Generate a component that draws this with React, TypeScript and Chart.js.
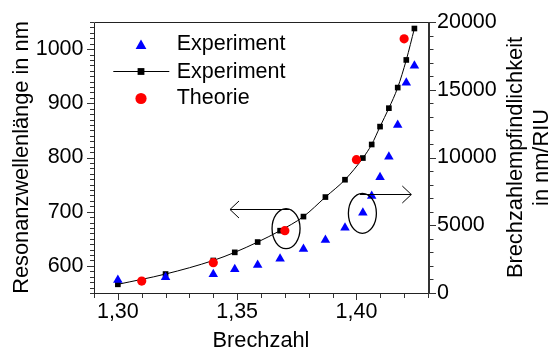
import React, { useEffect, useRef } from 'react';
import { Chart, registerables } from 'chart.js';

Chart.register(...registerables);

// ---- data ----
const BRECHZAHL = [1.3, 1.32, 1.34, 1.349, 1.3586, 1.368, 1.3778, 1.387, 1.3952, 1.4027, 1.4064, 1.4099, 1.4136, 1.4173, 1.4209, 1.4243];
const WELLENLAENGE = [566, 585, 610, 625, 644, 665, 691, 727, 759, 799, 824, 857, 891, 929, 980, 1038];
const EMPFINDLICHKEIT = [963, 1155, 1376, 1745, 2070, 2535, 3250, 3915, 4823, 5930, 7162, 8535, 10062, 12402, 15524, 16778];
const THEORIE_N = [1.31, 1.34, 1.37, 1.4, 1.42];
const THEORIE_WL = [572, 606, 665, 796, 1019];

const X_TICKS = [1.3, 1.35, 1.4];
const Y_TICKS = [600, 700, 800, 900, 1000];
const Y2_TICKS = [0, 5000, 10000, 15000, 20000];

const LABEL_EXP = 'Experiment';
const LABEL_THEO = 'Theorie';
const X_TITLE = 'Brechzahl';
const Y_TITLE = 'Resonanzwellenlänge in nm';
const Y2_TITLE = ['Brechzahlempfindlichkeit', 'in nm/RIU'];

// annotation anchors (data coordinates)
const ELLIPSES = [
  { x: 1.3705, y: 668.8, axis: 'y' },
  { x: 1.4025, y: 5882, axis: 'y2' },
];
const ARROWS = [
  { x1: 1.3719, x2: 1.347, y: 705.6, axis: 'y' },
  { x1: 1.4014, x2: 1.423, y: 7336, axis: 'y2' },
];

const FONT = "'Liberation Sans', Arial, sans-serif";

function triangle(ctx: CanvasRenderingContext2D, x: number, y: number, r: number) {
  ctx.beginPath();
  ctx.moveTo(x, y - r);
  ctx.lineTo(x + 0.866 * r, y + 0.5 * r);
  ctx.lineTo(x - 0.866 * r, y + 0.5 * r);
  ctx.closePath();
  ctx.fill();
}

const decorPlugin = {
  id: 'decor',
  beforeDatasetsDraw(chart: any) {
    const { ctx, chartArea: a, scales } = chart;
    const sx = scales.x, sy = scales.y, sy2 = scales.y2;
    ctx.save();
    ctx.strokeStyle = '#222';
    ctx.lineWidth = 1;
    // frame
    ctx.beginPath();
    ctx.moveTo(a.left + 0.5, a.bottom + 0.5);
    ctx.lineTo(a.left + 0.5, a.top + 0.5);
    ctx.lineTo(a.right, a.top + 0.5);
    ctx.moveTo(a.left, a.bottom + 0.5);
    ctx.lineTo(a.right, a.bottom + 0.5);
    ctx.stroke();
    ctx.strokeStyle = '#333';
    ctx.lineWidth = 2;
    ctx.beginPath();
    ctx.moveTo(a.right + 1, a.top);
    ctx.lineTo(a.right + 1, a.bottom + 1);
    ctx.stroke();
    // ticks
    ctx.lineWidth = 1;
    ctx.strokeStyle = '#333';
    ctx.beginPath();
    for (let i = 129; i <= 143; i++) {
      const px = Math.round(sx.getPixelForValue(i / 100)) + 0.5;
      const len = i % 5 === 0 ? 6 : 4;
      ctx.moveTo(px, a.bottom + 1);
      ctx.lineTo(px, a.bottom + 1 + len);
    }
    for (let i = 55; i <= 105; i++) {
      const py = Math.round(sy.getPixelForValue(i * 10)) + 0.5;
      const len = i % 10 === 0 ? 7 : 4;
      ctx.moveTo(a.left, py);
      ctx.lineTo(a.left - len, py);
    }
    for (let i = 0; i <= 20; i++) {
      const py = Math.round(sy2.getPixelForValue(i * 1000)) + 0.5;
      const len = i % 5 === 0 ? 6 : 3.5;
      ctx.moveTo(a.right + 2, py);
      ctx.lineTo(a.right + 2 + len, py);
    }
    ctx.stroke();
    ctx.restore();
  },
  afterDatasetsDraw(chart: any) {
    const { ctx, scales } = chart;
    ctx.save();
    ctx.strokeStyle = '#000';
    ctx.lineWidth = 1.3;
    ELLIPSES.forEach((e) => {
      const cx = scales.x.getPixelForValue(e.x);
      const cy = scales[e.axis].getPixelForValue(e.y);
      ctx.beginPath();
      ctx.ellipse(cx, cy, 14, 20, 0, 0, Math.PI * 2);
      ctx.stroke();
    });
    ctx.lineWidth = 1;
    ARROWS.forEach((ar) => {
      const x1 = scales.x.getPixelForValue(ar.x1);
      const x2 = scales.x.getPixelForValue(ar.x2);
      const y = Math.round(scales[ar.axis].getPixelForValue(ar.y)) + 0.5;
      const dir = x2 > x1 ? 1 : -1;
      ctx.beginPath();
      ctx.moveTo(x1, y);
      ctx.lineTo(x2, y);
      ctx.moveTo(x2 - dir * 9, y - 8.5);
      ctx.lineTo(x2, y);
      ctx.lineTo(x2 - dir * 9, y + 8.5);
      ctx.stroke();
    });
    ctx.restore();
  },
  afterDraw(chart: any) {
    const { ctx, chartArea: a } = chart;
    const ds = chart.data.datasets;
    ctx.save();
    // legend
    const mx = a.left + 47;
    const tx = a.left + 82.7;
    const rows = [a.top + 22.3, a.top + 50, a.top + 76.5];
    ctx.fillStyle = ds[0].backgroundColor;
    triangle(ctx, mx, rows[0] + 1.5, 6.2);
    ctx.strokeStyle = ds[1].borderColor;
    ctx.lineWidth = 1;
    ctx.beginPath();
    ctx.moveTo(a.left + 19.3, rows[1] - 0.5);
    ctx.lineTo(a.left + 75.3, rows[1] - 0.5);
    ctx.stroke();
    ctx.fillStyle = ds[1].pointBackgroundColor;
    ctx.fillRect(mx - 3.4, rows[1] - 3.9, 6.8, 6.8);
    ctx.fillStyle = ds[2].backgroundColor;
    ctx.beginPath();
    ctx.arc(mx, rows[2], 5.6, 0, Math.PI * 2);
    ctx.fill();
    ctx.fillStyle = '#000';
    ctx.font = `21.5px ${FONT}`;
    ctx.textAlign = 'left';
    ctx.textBaseline = 'middle';
    ctx.fillText(ds[0].label, tx, rows[0]);
    ctx.fillText(ds[1].label, tx, rows[1]);
    ctx.fillText(ds[2].label, tx, rows[2]);
    // right axis title
    const cy = (a.top + a.bottom) / 2;
    ctx.font = `21.8px ${FONT}`;
    ctx.textAlign = 'center';
    ctx.translate(515.5, cy);
    ctx.rotate(-Math.PI / 2);
    ctx.fillText(Y2_TITLE[0], 0, 0);
    ctx.fillText(Y2_TITLE[1], 0, 26.5);
    ctx.restore();
  },
};

export default function App() {
  const ref = useRef<HTMLCanvasElement | null>(null);

  useEffect(() => {
    document.body.style.margin = '0';
    const tickFont = { family: FONT, size: 21.5, lineHeight: 1 };
    const titleFont = { family: FONT, size: 21.8, lineHeight: 1 };
    const chart = new Chart(ref.current as HTMLCanvasElement, {
      type: 'scatter',
      data: {
        datasets: [
          {
            label: LABEL_EXP,
            data: BRECHZAHL.map((x, i) => ({ x, y: EMPFINDLICHKEIT[i] })),
            yAxisID: 'y2',
            pointStyle: 'triangle',
            pointRadius: 5.5,
            backgroundColor: '#0000FF',
            borderColor: '#0000FF',
            borderWidth: 0,
            order: 1,
          },
          {
            label: LABEL_EXP,
            data: BRECHZAHL.map((x, i) => ({ x, y: WELLENLAENGE[i] })),
            yAxisID: 'y',
            showLine: true,
            borderColor: '#000',
            borderWidth: 1,
            tension: 0.4,
            cubicInterpolationMode: 'monotone',
            pointStyle: 'rect',
            pointRadius: 4,
            pointBackgroundColor: '#000',
            pointBorderWidth: 0,
            order: 2,
          },
          {
            label: LABEL_THEO,
            data: THEORIE_N.map((x, i) => ({ x, y: THEORIE_WL[i] })),
            yAxisID: 'y',
            pointStyle: 'circle',
            pointRadius: 4.6,
            backgroundColor: '#FF0000',
            borderColor: '#FF0000',
            borderWidth: 0,
            order: 0,
          },
        ] as any,
      },
      options: {
        responsive: false,
        animation: false,
        layout: { padding: { top: 22, left: 0, right: 0, bottom: 0 } },
        plugins: { legend: { display: false }, tooltip: { enabled: false } },
        scales: {
          x: {
            type: 'linear',
            position: 'bottom',
            min: 1.29,
            max: 1.43,
            afterBuildTicks: (s: any) => { s.ticks = X_TICKS.map((v) => ({ value: v })); },
            afterFit: (s: any) => { s.height = 59; },
            grid: { display: false, drawTicks: false },
            border: { display: false },
            ticks: {
              padding: 8,
              color: '#000',
              font: tickFont,
              autoSkip: false,
              maxRotation: 0,
              callback: (v: any) => Number(v).toFixed(2).replace('.', ','),
            },
            title: { display: true, text: X_TITLE, color: '#000', font: titleFont, padding: { top: 0, bottom: 0 } },
          },
          y: {
            type: 'linear',
            position: 'left',
            min: 550,
            max: 1050,
            afterBuildTicks: (s: any) => { s.ticks = Y_TICKS.map((v) => ({ value: v })); },
            afterFit: (s: any) => { s.width = 94; },
            grid: { display: false, drawTicks: false },
            border: { display: false },
            ticks: { padding: 10.5, color: '#000', font: tickFont, autoSkip: false, callback: (v: any) => String(v) },
            title: { display: true, text: Y_TITLE, color: '#000', font: titleFont, padding: { top: 11, bottom: 0 } },
          },
          y2: {
            type: 'linear',
            position: 'right',
            min: 0,
            max: 20000,
            afterBuildTicks: (s: any) => { s.ticks = Y2_TICKS.map((v) => ({ value: v })); },
            afterFit: (s: any) => { s.width = 122; },
            grid: { display: false, drawTicks: false },
            border: { display: false },
            ticks: { padding: 9, color: '#000', font: tickFont, autoSkip: false, callback: (v: any) => String(v) },
          },
        },
      } as any,
      plugins: [decorPlugin],
    });
    return () => chart.destroy();
  }, []);

  return (
    <div style={{ width: 550, height: 352, overflow: 'hidden' }}>
      <canvas ref={ref} width={550} height={352} style={{ display: 'block' }} />
    </div>
  );
}
